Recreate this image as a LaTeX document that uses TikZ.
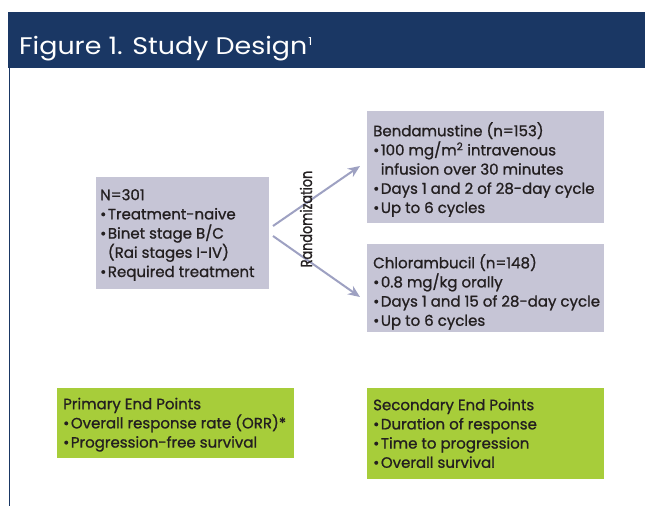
\documentclass[tikz,border=0pt]{standalone}
\usepackage{fontspec}
\setmainfont{Poppins}
\newfontfamily\bodyfont{Poppins}[FakeBold=1.0]
\newfontfamily\headfont{Poppins}[FakeStretch=1.12]
\newfontfamily\sidefont{Poppins}[FakeBold=1.0, FakeStretch=0.8]
\usetikzlibrary{arrows.meta,calc}
\definecolor{navy}{HTML}{1A3764}
\definecolor{armfill}{HTML}{C6C5D6}
\definecolor{endfill}{HTML}{A7CD3A}
\definecolor{ink}{HTML}{231F20}
\definecolor{flow}{HTML}{9EA1C2}
\newcommand\bul{\textbullet\kern1.5pt}
\newcommand\ind{\phantom{\textbullet\kern1.5pt}}
\newcommand\lead{\rule{0pt}{13pt}}
\newcommand\refmark[1]{\kern1pt\raisebox{8.5pt}{\fontsize{11}{11}\selectfont #1}}
\begin{document}
\begin{tikzpicture}[x=1pt,y=-1pt,
  panel/.style={anchor=north west, inner sep=0pt, outer sep=0pt, draw=none},
  armbox/.style={panel, fill=armfill},
  endbox/.style={panel, fill=endfill},
  txt/.style={anchor=north west, inner sep=0pt, align=left, text=ink,
    font=\bodyfont\fontsize{15}{19.2}\selectfont},
  flowarrow/.style={draw=flow, line width=2pt, -{Stealth[length=12pt,width=10pt]}}]
\useasboundingbox (0,0) rectangle (645,506);
\fill[white] (0,0) rectangle (645,506);

% heading band and left rule
\fill[navy] (8,12) rectangle (645,68);
\draw[navy, line width=1.5pt] (9.5,68) -- (9.5,506);
\node[anchor=base west, inner sep=0pt, text=white,
  font=\headfont\fontsize{24}{28}\selectfont] (title) at (19,54)
  {Figure 1. Study Design\refmark{1}};

% population
\node[armbox, minimum width=173pt, minimum height=112pt] (nbox) at (96,177) {};
\node[txt] (ntext) at (100,200-13) {\lead N=301\\
  \bul Treatment-naive\\
  \bul Binet stage B/C\\
  \ind(Rai stages I-IV)\\
  \bul Required treatment};

% treatment arms
\node[armbox, minimum width=237pt, minimum height=112pt] (bbox) at (367,111) {};
\node[txt] (btext) at (373,135-13) {\lead Bendamustine (n=153)\\
  \bul 100 mg/m\textsuperscript{2} intravenous\\
  \ind infusion over 30 minutes\\
  \bul Days 1 and 2 of 28-day cycle\\
  \bul Up to 6 cycles};

\node[armbox, minimum width=237pt, minimum height=88pt] (cbox) at (367,244) {};
\node[txt] (ctext) at (373,267-13) {\lead Chlorambucil (n=148)\\
  \bul 0.8 mg/kg orally\\
  \bul Days 1 and 15 of 28-day cycle\\
  \bul Up to 6 cycles};

% randomization fork
\coordinate (upstart) at ($(nbox.east)+(4,-7)$);
\coordinate (downstart) at ($(nbox.east)+(4,3)$);
\coordinate (uptip) at ($(bbox.west)+(-7,-1)$);
\coordinate (downtip) at ($(cbox.west)+(-7,9)$);
\draw[flowarrow] (upstart) -- (uptip);
\draw[flowarrow] (downstart) -- (downtip);
\node[rotate=90, inner sep=0pt, text=ink, font=\sidefont\fontsize{16}{18}\selectfont]
  (rand) at (306,219) {Randomization};

% end points
\node[endbox, minimum width=237pt, minimum height=70pt] (pbox) at (57,388) {};
\node[txt] (ptext) at (63,409-13) {\lead Primary End Points\\
  \bul Overall response rate (ORR)*\\
  \bul Progression-free survival};

\node[endbox, minimum width=237pt, minimum height=91pt] (sbox) at (367,388) {};
\node[txt] (stext) at (373,410-13) {\lead Secondary End Points\\
  \bul Duration of response\\
  \bul Time to progression\\
  \bul Overall survival};
\end{tikzpicture}
\end{document}
